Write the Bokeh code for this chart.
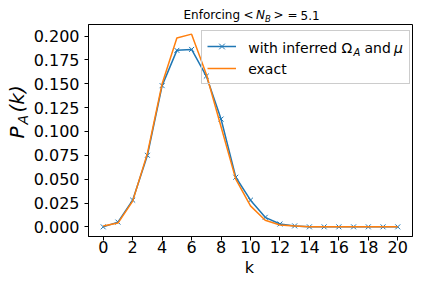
from bokeh.plotting import figure
from bokeh.layouts import column, row
from bokeh.models import Range1d, FixedTicker, NumeralTickFormatter, Label, Legend, LegendItem
from bokeh.embed import file_html
from bokeh.resources import INLINE
import math

# ---- data ----
k = list(range(21))
p_inferred = [0.000, 0.005, 0.028, 0.075, 0.148, 0.185, 0.186, 0.158, 0.113, 0.052,
              0.028, 0.010, 0.003, 0.001, 0.000, 0.000, 0.000, 0.000, 0.000, 0.000, 0.000]
p_exact = [0.001, 0.004, 0.027, 0.077, 0.150, 0.198, 0.202, 0.160, 0.105, 0.050,
           0.022, 0.007, 0.002, 0.001, 0.000, 0.000, 0.000, 0.000, 0.000, 0.000, 0.000]
x_ticks = list(range(0, 21, 2))
y_ticks = [0.0, 0.025, 0.05, 0.075, 0.1, 0.125, 0.15, 0.175, 0.2]

BLUE = "#1f77b4"
ORANGE = "#ff7f0e"
FONT = "DejaVu Sans"
MID = 0.346   # distance (in em) from the alphabetic baseline up to the text box middle

W, H = 414, 277
TOP = 24          # title strip height
YLW = 30          # y-label strip width
FL, FT, FW, FH = 86, 24, 326, 212   # frame in page pixels
FB = FT + FH
MAIN_H = FH + 22  # main figure height (frame + tick labels)
KH = H - TOP - MAIN_H


def strip(w, h):
    f = figure(width=w, height=h, output_backend="svg", toolbar_location=None,
               x_axis_location=None, y_axis_location=None, min_border=0,
               min_border_left=0, min_border_right=0, min_border_top=0, min_border_bottom=0,
               x_range=Range1d(0, 1), y_range=Range1d(0, 1))
    f.outline_line_color = None
    f.background_fill_color = "white"
    f.border_fill_color = "white"
    for g in list(f.xgrid) + list(f.ygrid):
        g.visible = False
    return f


def lab(fig, ox, oy, text, xr, yr, size, italic=False, angle=0.0, align="left"):
    # (xr, yr): page position of the text's left end on its middle line
    # ox: page x of the frame's left edge; oy: page y of the frame's bottom edge
    fig.add_layout(Label(x=xr - ox, y=oy - yr, x_units="screen", y_units="screen",
                         text=text, text_font=FONT, text_font_size=f"{size}px",
                         text_font_style="italic" if italic else "normal",
                         text_color="black", text_align=align, text_baseline="middle",
                         angle=angle, level="overlay"))


def hlab(fig, ox, oy, text, xr, base, size, **kw):
    lab(fig, ox, oy, text, xr, base - MID * size, size, **kw)


def vlab(fig, ox, oy, text, base_x, yr, size, **kw):
    lab(fig, ox, oy, text, base_x - MID * size, yr, size, angle=math.pi / 2, **kw)


# ---- main plot ----
p = figure(width=W - YLW, height=MAIN_H, output_backend="svg", toolbar_location=None,
           x_range=Range1d(-1, 21), y_range=Range1d(-0.0101, 0.2121),
           min_border_left=FL - YLW, min_border_right=W - FL - FW,
           min_border_top=0, min_border_bottom=MAIN_H - FH)
p.xgrid.visible = False
p.ygrid.visible = False
p.outline_line_color = "black"
p.outline_line_width = 1
p.background_fill_color = "white"
p.border_fill_color = "white"

for ax in (p.xaxis[0], p.yaxis[0]):
    ax.axis_line_color = "black"
    ax.major_tick_line_color = "black"
    ax.minor_tick_line_color = None
    ax.major_tick_out = 4
    ax.major_tick_in = 0
    ax.major_label_text_font = FONT
    ax.major_label_text_font_size = "16px"
    ax.major_label_text_color = "black"

p.xaxis[0].ticker = FixedTicker(ticks=x_ticks)
p.yaxis[0].ticker = FixedTicker(ticks=y_ticks)
p.yaxis[0].formatter = NumeralTickFormatter(format="0.000")
p.xaxis[0].major_label_standoff = 0
p.yaxis[0].major_label_standoff = 5

bl = p.line(k, p_inferred, line_color=BLUE, line_width=1.5)
bs = p.scatter(k, p_inferred, marker="x", size=7, line_color=BLUE, line_width=1)
ol = p.line(k, p_exact, line_color=ORANGE, line_width=1.5)

LX = 199.3   # legend box left (page px)
LT = 31.7    # legend box top (page px)
legend = Legend(items=[LegendItem(label=" ", renderers=[bl, bs]),
                       LegendItem(label=" ", renderers=[ol])],
                location=(LX - FL, FB - (LT + 52)), margin=0, padding=5, spacing=2,
                glyph_width=29, glyph_height=20, label_height=20, label_width=156,
                label_standoff=12, label_text_font_size="14px",
                border_line_color="#cccccc", border_line_alpha=1.0,
                background_fill_color="white", background_fill_alpha=0.0,
                level="annotation")
p.add_layout(legend, "center")

d = LX - 205.3
hlab(p, FL, FB, "with inferred Ω", 251.7 + d, 52, 14)
hlab(p, FL, FB, "A", 357 + d, 55, 10, italic=True)
hlab(p, FL, FB, "and", 368 + d, 52, 14)
hlab(p, FL, FB, "μ", 397.5 + d, 52, 14, italic=True)
hlab(p, FL, FB, "exact", 251.7 + d, 73.5, 14)

# ---- title strip ----
t = strip(W, TOP)
hlab(t, 0, TOP, "Enforcing", 183, 18.7, 12)
hlab(t, 0, TOP, "<", 243, 18.7, 12)
hlab(t, 0, TOP, "N", 255.5, 18.7, 12, italic=True)
hlab(t, 0, TOP, "B", 264.5, 21, 8.5, italic=True)
hlab(t, 0, TOP, ">", 273, 18.7, 12)
hlab(t, 0, TOP, "=", 287, 18.7, 12)
hlab(t, 0, TOP, "5.1", 300, 18.7, 12)

# ---- y-label strip ----
yl = strip(YLW, MAIN_H)
YB = TOP + MAIN_H
vlab(yl, 0, YB, "P", 23, 160, 20, italic=True)
vlab(yl, 0, YB, "A", 27, 146, 14, italic=True)
vlab(yl, 0, YB, "(k)", 23, 134, 20, italic=True)

# ---- x-label strip ----
kf = strip(W, KH)
hlab(kf, 0, H, "k", FL + FW / 2, 272.5, 16, align="center")

layout = column(t, row(yl, p, spacing=0), kf, spacing=0)
open("out.html", "w").write(file_html(layout, INLINE))
